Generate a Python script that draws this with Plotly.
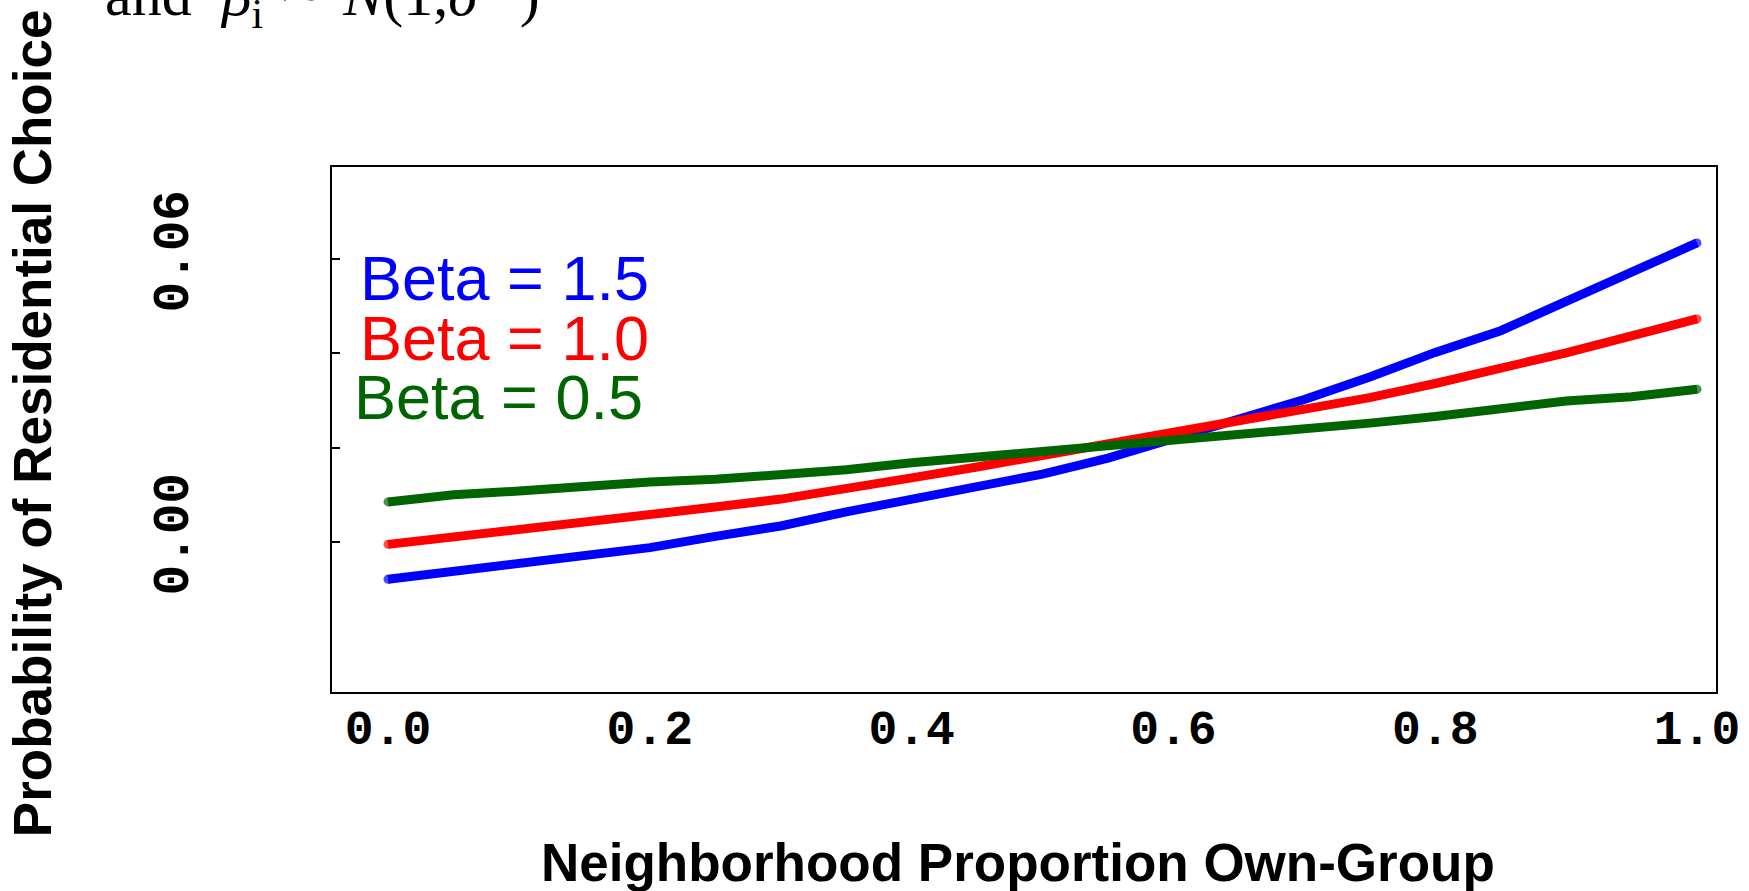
import plotly.graph_objects as go

# Neighborhood proportion own-group (x) and choice probabilities per beta
proportion = [0.00, 0.05, 0.10, 0.15, 0.20, 0.25, 0.30, 0.35, 0.40, 0.45, 0.50,
              0.55, 0.60, 0.65, 0.70, 0.75, 0.80, 0.85, 0.90, 0.95, 1.00]

prob_beta_15 = [-0.0079, -0.0062, -0.0045, -0.0032, -0.0012, 0.0012, 0.0034, 0.0064,
                0.0090, 0.0116, 0.0144, 0.0178, 0.0218, 0.0259, 0.0302, 0.0350,
                0.0402, 0.0448, 0.0508, 0.0572, 0.0634]
prob_beta_10 = [-0.0005, 0.0010, 0.0025, 0.0041, 0.0057, 0.0074, 0.0091, 0.0112,
                0.0136, 0.0159, 0.0183, 0.0207, 0.0231, 0.0254, 0.0278, 0.0306,
                0.0336, 0.0368, 0.0401, 0.0437, 0.0473]
prob_beta_05 = [0.0085, 0.0100, 0.0108, 0.0118, 0.0127, 0.0133, 0.0143, 0.0153,
                0.0168, 0.0180, 0.0192, 0.0204, 0.0213, 0.0225, 0.0236, 0.0252,
                0.0266, 0.0282, 0.0299, 0.0308, 0.0324]

series_labels = ["Beta = 1.5", "Beta = 1.0", "Beta = 0.5"]
series_colors = ["#0000FF", "#FF0000", "#006400"]

x_tick_vals = [0.0, 0.2, 0.4, 0.6, 0.8, 1.0]
x_tick_text = ["0.0", "0.2", "0.4", "0.6", "0.8", "1.0"]
y_tick_vals = [0.00, 0.02, 0.04, 0.06]
y_tick_text = ["0.00", "", "", "0.06"]

LINE_W = 9
fig = go.Figure()
for ys, color in zip([prob_beta_15, prob_beta_10, prob_beta_05], series_colors):
    end_caps = [LINE_W] + [0] * (len(ys) - 2) + [LINE_W]
    fig.add_trace(go.Scatter(
        x=proportion, y=ys, mode="lines+markers",
        line=dict(color=color, width=LINE_W),
        marker=dict(color=color, size=end_caps, line=dict(width=0)),
        showlegend=False, hoverinfo="skip",
    ))

# In-plot labels for each series
label_pos = [(-0.0229, 0.0560), (-0.0229, 0.0433), (-0.0275, 0.0308)]
for text, color, (lx, ly) in zip(series_labels, series_colors, label_pos):
    fig.add_annotation(x=lx, y=ly, xref="x", yref="y", text=text, showarrow=False,
                       xanchor="left", yanchor="middle",
                       font=dict(family="Liberation Sans", size=63, color=color))

# Axis titles
fig.add_annotation(x=-0.2168, y=0.512, xref="paper", yref="paper",
                   text="Probability of Residential Choice", showarrow=False,
                   textangle=-90, xanchor="center", yanchor="middle",
                   font=dict(family="Liberation Sans", size=53, color="black", weight="bold"))
fig.add_annotation(x=0.496, y=-0.325, xref="paper", yref="paper",
                   text="Neighborhood Proportion Own-Group", showarrow=False,
                   xanchor="center", yanchor="middle",
                   font=dict(family="Liberation Sans", size=53, color="black", weight="bold"))

# Subtitle line at the top
NB = "\u00a0"
subtitle = ("and" + NB * 2 + "<i>β</i><sub>i</sub>" + NB + "\u223c" + NB +
            "<i>N</i>(1,<i>σ</i><sup>2" + NB * 2 + "</sup>)")
fig.add_annotation(x=-0.1655, y=1.327, xref="paper", yref="paper",
                   text=subtitle, showarrow=False, xanchor="left", yanchor="middle",
                   font=dict(family="Liberation Serif", size=60, color="black"))

fig.update_xaxes(
    range=[-0.0428, 1.0145], tickvals=x_tick_vals, ticktext=x_tick_text,
    ticks="", showgrid=False, zeroline=False,
    showline=True, mirror=True, linecolor="black", linewidth=2,
    tickfont=dict(family="Liberation Mono", size=48, color="black", weight="bold"),
    ticklabelstandoff=-8,
)
fig.update_yaxes(
    range=[-0.0318, 0.0795], tickvals=y_tick_vals, ticktext=y_tick_text,
    ticks="inside", ticklen=8, tickwidth=2, tickcolor="black",
    showgrid=False, zeroline=False,
    showline=True, mirror=True, linecolor="black", linewidth=2,
    tickangle=-90,
    tickfont=dict(family="Liberation Mono", size=51, color="black", weight="bold"),
    ticklabelstandoff=122,
)

fig.update_layout(
    width=1749, height=891,
    margin=dict(l=332, r=33, t=167, b=199, autoexpand=False),
    paper_bgcolor="white", plot_bgcolor="white",
)

fig.write_html("out.html")
